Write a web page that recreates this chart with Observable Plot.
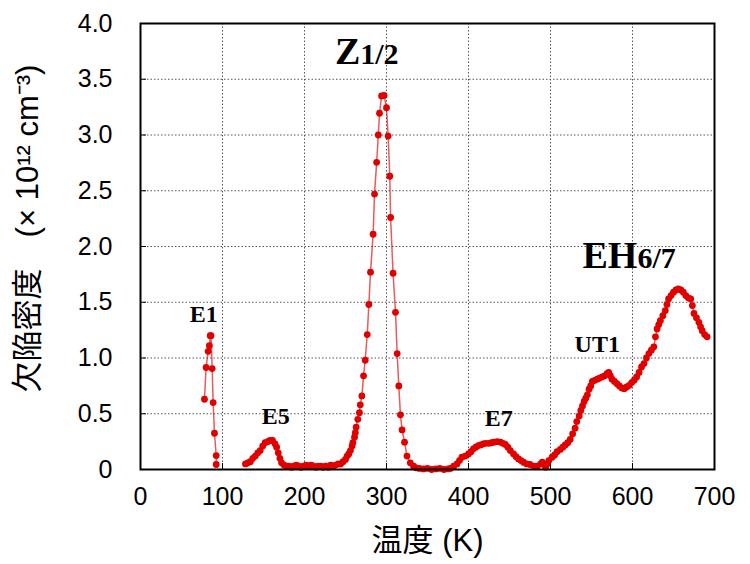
<!DOCTYPE html>
<html><head><meta charset="utf-8">
<script src="https://cdn.jsdelivr.net/npm/d3@7"></script>
<script src="https://cdn.jsdelivr.net/npm/@observablehq/plot@0.6"></script>
<style>body{margin:0;background:#fff}</style>
</head><body><div id="chart"></div>
<script>
// Temperature (K) and defect density (x10^12 cm^-3); null marks a gap in the trace
const temps = [78,80,82.5,84,85,86,87.4,88.6,90.2,92.3,92.3, 110,
  128,131,134,137,140,143,146,149,152,155,158,161,164,166,168,170,172,175,178,181,184,187,190,193,196,199,202,205,208,211,214,217,220,223,226,229,232,235,238,241,
  244,247,250,252,254,256,258,259,261,262,263,265,267,268,270,272,274,276.5,278.5,280.5,283.7,285.4,288,290,291.5,294,297,300,302,304,305,308,311,313,315,317,319,322,325,329,333,336,340,345,350,355,360,365,370,375,378,382,386,389,392,396,400,403,406,409,412,415,418,421,425,428,431,435,439,442,445,448,451,455,458,461,464,467,471,475,480,484,488,490,494,496,498,502,505,508,512,515,518,521,524,527,530,532,535,537,539,541,543,545,547,549,551,554,557,560,563,566,569,571,573,575,578,581,584,587,590,593,596,599,602,605,608,611,614,617,620,623,626,628,630,632,634,637,640,642,644,647,650,653,656,659,662,665,668,671,673,675,678,681,683,685,688,691];
const density = [0.63,0.915,1.06,1.11,1.20,1.20,0.905,0.60,0.325,0.125,0.045, null,
  0.05,0.06,0.07,0.10,0.12,0.15,0.17,0.21,0.24,0.25,0.26,0.26,0.23,0.20,0.15,0.10,0.06,0.04,0.03,0.03,0.02,0.03,0.04,0.03,0.02,0.03,0.04,0.03,0.04,0.03,0.02,0.03,0.03,0.02,0.03,0.02,0.04,0.03,0.04,0.05,
  0.05,0.07,0.09,0.12,0.14,0.17,0.21,0.24,0.29,0.33,0.38,0.45,0.51,0.58,0.66,0.84,0.98,1.21,1.48,1.77,2.11,2.47,2.755,3.00,3.195,3.35,3.355,3.245,2.99,2.63,2.26,1.76,1.41,1.04,0.75,0.49,0.355,0.245,0.12,0.06,0.03,0.015,0.01,0.005,0.01,0.0,0.005,0.01,0.0,0.005,0.01,0.03,0.05,0.08,0.11,0.12,0.14,0.16,0.185,0.20,0.215,0.22,0.23,0.235,0.235,0.24,0.245,0.25,0.245,0.235,0.225,0.20,0.17,0.14,0.115,0.095,0.08,0.065,0.05,0.045,0.03,0.03,0.05,0.065,0.02,0.05,0.08,0.11,0.13,0.16,0.18,0.20,0.22,0.24,0.27,0.32,0.37,0.43,0.48,0.53,0.57,0.61,0.64,0.67,0.72,0.75,0.79,0.80,0.81,0.82,0.83,0.84,0.86,0.87,0.84,0.81,0.79,0.77,0.75,0.73,0.725,0.74,0.755,0.78,0.80,0.83,0.87,0.92,0.95,1.00,1.04,1.07,1.10,1.19,1.26,1.30,1.335,1.38,1.425,1.48,1.53,1.56,1.59,1.61,1.62,1.61,1.59,1.56,1.54,1.53,1.47,1.40,1.36,1.32,1.28,1.245,1.21,1.19];

const xTicks = [0,100,200,300,400,500,600,700];
const yTicks = [0,0.5,1.0,1.5,2.0,2.5,3.0,3.5,4.0];
const gridX = [100,200,300,400,500,600];
const gridY = [0.5,1.0,1.5,2.0,2.5,3.0,3.5];

const peakNames = ["E1","E5","E7","UT1"];
const peakX = [77,165,437,557];
const peakY = [1.39,0.475,0.46,1.12];

const bigNames = ["Z","EH"];
const bigSubs = ["1/2","6/7"];
const bigX = [268,606];
const bigY = [3.75,1.92];

const xLabel = "温度 (K)";
const yLabel = "欠陥密度　(× 10¹² cm⁻³)";

const pts = temps.map((t,i)=>({t, d: density[i]}));
const peaks = peakNames.map((n,i)=>({n, x: peakX[i], y: peakY[i]}));
const bigs = bigNames.map((n,i)=>({n, s: bigSubs[i], x: bigX[i], y: bigY[i]}));
const red = "#e00000";
const serif = "'Liberation Serif','Times New Roman',serif";
const sans = "'Liberation Sans',Arial,'Noto Sans CJK JP',sans-serif";

const chart = Plot.plot({
  width: 750, height: 564,
  marginLeft: 140, marginRight: 36, marginTop: 23, marginBottom: 95,
  style: {fontFamily: sans, background: "#fff"},
  x: {domain: [0,700], ticks: xTicks, label: null},
  y: {domain: [0,4], ticks: yTicks, label: null},
  marks: [
    Plot.ruleX(gridX, {stroke: "#555", strokeDasharray: "1.5,2", strokeWidth: 1}),
    Plot.ruleY(gridY, {stroke: "#555", strokeDasharray: "1.5,2", strokeWidth: 1}),
    Plot.axisX({ticks: xTicks, tickSize: -6, tickPadding: 24, fontSize: 25, label: null, stroke: "#000"}),
    Plot.axisY({ticks: yTicks, tickSize: -6, tickPadding: 34, fontSize: 25, label: null, stroke: "#000",
      tickFormat: d => d === 0 ? "0" : d.toFixed(1)}),
    Plot.line(pts, {x: "t", y: "d", stroke: red, strokeWidth: 1.5, strokeOpacity: 0.65}),
    Plot.dot(pts, {x: "t", y: "d", r: 3.4, fill: red}),
    Plot.frame({stroke: "#000", strokeWidth: 2}),
    Plot.text(peaks, {x: "x", y: "y", text: "n", fontFamily: serif, fontWeight: "bold", fontSize: 24, fill: "#000"}),
    Plot.text(bigs, {x: "x", y: "y", text: "n", textAnchor: "end", fontFamily: serif, fontWeight: "bold", fontSize: 38, fill: "#000"}),
    Plot.text(bigs, {x: "x", y: "y", text: "s", textAnchor: "start", dy: 3, fontFamily: serif, fontWeight: "bold", fontSize: 30, fill: "#000"}),
    Plot.text([xLabel], {frameAnchor: "bottom", dy: 81, fontSize: 31, fontFamily: sans, fill: "#000"}),
    Plot.text([yLabel], {frameAnchor: "left", textAnchor: "middle", rotate: -90, dx: -112, dy: -18, fontSize: 31, fontFamily: sans, fill: "#000"})
  ]
});
document.getElementById("chart").appendChild(chart);
</script>
</body></html>
